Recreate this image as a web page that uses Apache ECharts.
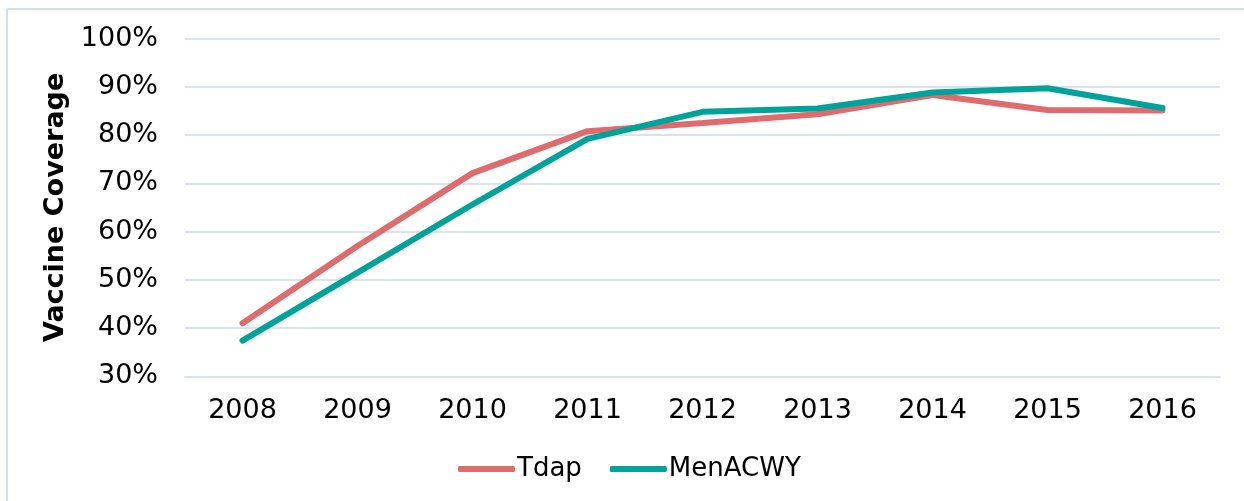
<!DOCTYPE html>
<html>
<head>
<meta charset="utf-8">
<script src="https://cdn.jsdelivr.net/npm/echarts@6/dist/echarts.min.js"></script>
<style>
html,body{margin:0;padding:0;background:#fff;}
#chart{width:1244px;height:501px;}
</style>
</head>
<body>
<div id="chart"></div>
<script>
const years = ['2008','2009','2010','2011','2012','2013','2014','2015','2016'];
const tdap = [41.0, 57.0, 72.1, 80.8, 82.5, 84.3, 88.3, 85.2, 85.1];
const menacwy = [37.4, 51.5, 65.6, 79.2, 84.8, 85.5, 88.8, 89.7, 85.6];
const yTicks = [30, 40, 50, 60, 70, 80, 90, 100];

const font = 'DejaVu Sans, Verdana, sans-serif';
const chart = echarts.init(document.getElementById('chart'), null, {renderer: 'canvas'});
chart.setOption({
  animation: false,
  backgroundColor: '#ffffff',
  graphic: [
    {type: 'line', shape: {x1: 7, y1: 9, x2: 1244, y2: 9}, style: {stroke: '#d6e0f2', lineWidth: 2}, silent: true},
    {type: 'line', shape: {x1: 7, y1: 9, x2: 7, y2: 501}, style: {stroke: '#d6e0f2', lineWidth: 2}, silent: true}
  ],
  grid: {left: 185, right: 24, top: 38.5, bottom: 124.7, containLabel: false},
  legend: {
    data: ['Tdap', 'MenACWY'],
    bottom: 14,
    left: 453,
    icon: 'roundRect',
    itemWidth: 57,
    itemHeight: 6,
    itemGap: 28,
    textStyle: {fontFamily: font, fontSize: 26, color: '#000', padding: [0, 0, 0, -3]}
  },
  xAxis: {
    type: 'category',
    data: years,
    boundaryGap: true,
    axisLine: {show: true, lineStyle: {color: '#d9e1f2', width: 2}},
    axisTick: {show: false},
    axisLabel: {fontFamily: font, fontSize: 27, color: '#000', margin: 21}
  },
  yAxis: {
    type: 'value',
    min: yTicks[0],
    max: yTicks[yTicks.length - 1],
    interval: 10,
    name: 'Vaccine Coverage',
    nameLocation: 'middle',
    nameGap: 114,
    nameRotate: 90,
    nameTextStyle: {fontFamily: font, fontSize: 27, fontWeight: 'bold', color: '#000'},
    axisLine: {show: false},
    axisTick: {show: false},
    splitLine: {lineStyle: {color: '#d9e1f2', width: 2}},
    axisLabel: {fontFamily: font, fontSize: 27, color: '#000', margin: 27, formatter: v => v + '%'}
  },
  series: [
    {name: 'Tdap', type: 'line', data: tdap, symbol: 'none', lineStyle: {color: '#e06b6d', width: 6, cap: 'round'}, itemStyle: {color: '#e06b6d'}},
    {name: 'MenACWY', type: 'line', data: menacwy, symbol: 'none', lineStyle: {color: '#00a39a', width: 6, cap: 'round'}, itemStyle: {color: '#00a39a'}}
  ]
});
</script>
</body>
</html>
